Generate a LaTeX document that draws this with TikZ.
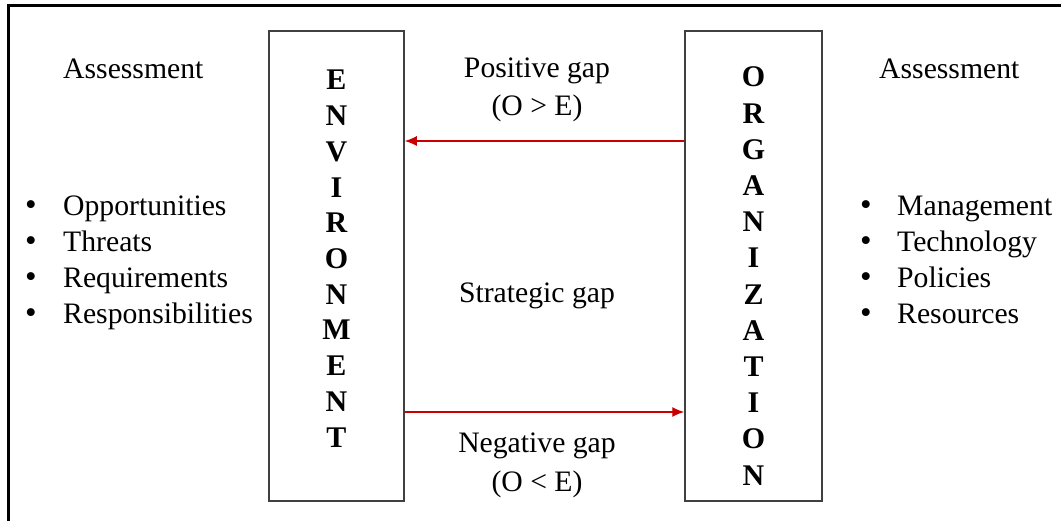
\documentclass[tikz,border=0pt]{standalone}
\usepackage{fontspec}
\setmainfont{Liberation Serif}
\usetikzlibrary{arrows.meta}
\begin{document}
\begin{tikzpicture}[x=1pt,y=-1pt,
  txt/.style={font=\fontsize{29.7}{35}\selectfont, inner sep=0pt, anchor=base west},
  ctxt/.style={font=\fontsize{29.7}{35}\selectfont, inner sep=0pt, anchor=base},
  letter/.style={font=\fontsize{30}{35}\selectfont\bfseries, inner sep=0pt, anchor=base},
  bullet/.style={font=\fontsize{33}{35}\selectfont, inner sep=0pt, anchor=base},
  panel/.style={draw=black!75, line width=1.5pt, inner sep=0pt},
  gaparrow/.style={draw={rgb,255:red,200;green,0;blue,0}, line width=1.3pt, -{Latex[length=12pt,width=10pt]}},
]
\useasboundingbox (0,0) rectangle (1061,521);
% outer frame (only top and left edges visible)
\draw[line width=2.5pt] (8.5,521) -- (8.5,5.5) -- (1061,5.5);

% boxes
\node[panel, minimum width=135pt, minimum height=470pt] (env) at (336.5,266) {};
\node[panel, minimum width=137pt, minimum height=470pt] (org) at (753.5,266) {};

% ENVIRONMENT letters
\foreach \l [count=\i from 0] in {E,N,V,I,R,O,N,M,E,N,T}
  \node[letter] (envl\i) at (336.5, 90+35.7*\i) {\l};
% ORGANIZATION letters
\foreach \l [count=\i from 0] in {O,R,G,A,N,I,Z,A,T,I,O,N}
  \node[letter] (orgl\i) at (753.5, 87+36.2*\i) {\l};

% left side
\node[txt] (lassess) at (63,79) {Assessment};
\foreach \t [count=\i from 0] in {Opportunities,Threats,Requirements,Responsibilities}{
  \node[bullet] (lb\i) at (31,216+36*\i) {\textbullet};
  \node[txt] (lt\i) at (63,216+36*\i) {\t};
}
% right side
\node[txt] (rassess) at (879,79) {Assessment};
\foreach \t [count=\i from 0] in {Management,Technology,Policies,Resources}{
  \node[bullet] (rb\i) at (866,216+36*\i) {\textbullet};
  \node[txt] (rt\i) at (897,216+36*\i) {\t};
}

% middle texts
\node[ctxt] (pos1) at (537,78) {Positive gap};
\node[ctxt] (pos2) at (537,116) {(O > E)};
\node[ctxt] (strat) at (537,303) {Strategic gap};
\node[ctxt] (neg1) at (537,453) {Negative gap};
\node[ctxt] (neg2) at (537,491) {(O < E)};

% arrows
\coordinate (orgtop) at (org.west |- 0,141);
\coordinate (envtop) at (env.east |- 0,141);
\coordinate (envbot) at (env.east |- 0,412);
\coordinate (orgbot) at (org.west |- 0,412);
\draw[gaparrow] (orgtop) -- (envtop);
\draw[gaparrow] (envbot) -- (orgbot);
\end{tikzpicture}
\end{document}
